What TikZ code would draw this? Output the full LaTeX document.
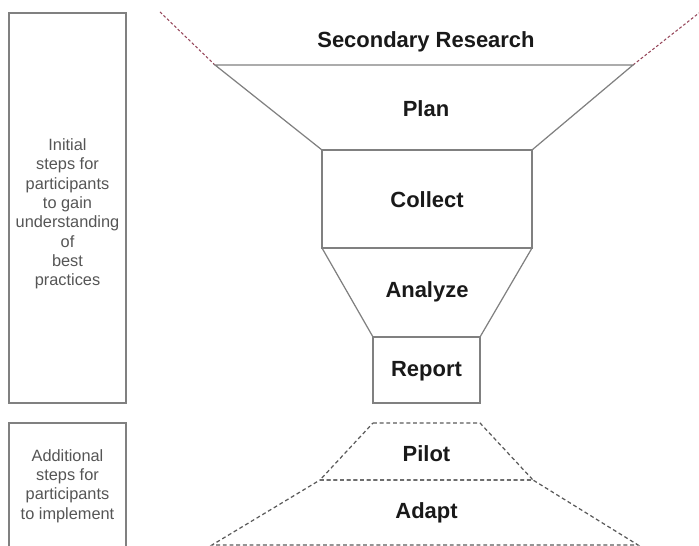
\documentclass[tikz,border=0pt]{standalone}
\usepackage{fontspec}
\setmainfont{Liberation Sans}
\definecolor{edgegray}{RGB}{128,128,128}
\definecolor{notegray}{RGB}{85,85,85}
\definecolor{rimred}{RGB}{150,70,90}
\definecolor{labelblack}{RGB}{25,25,25}

\begin{document}
\begin{tikzpicture}[x=0.02cm, y=-0.02cm,
    stage/.style={draw=edgegray, line width=0.7pt},
    extra/.style={draw=edgegray!70!black, line width=0.7pt, dash pattern=on 2.2pt off 1.6pt},
    rim/.style={draw=rimred, line width=0.6pt, dash pattern=on 1.6pt off 1.2pt},
    steplabel/.style={font=\fontsize{12.5}{15}\selectfont\bfseries, text=labelblack, anchor=base, inner sep=0pt},
    note/.style={font=\fontsize{9.3}{11}\selectfont, text=notegray, align=center, inner sep=0pt}
]
\useasboundingbox (0,0) rectangle (699,546);
\clip (0,0) rectangle (699,546);
% side boxes
\draw[stage] (9,13) rectangle (126,403);
\draw[stage] (9,423) rectangle (126,560);
\node[note] (initial) at (67.5,214) {Initial\\steps for\\participants\\to gain\\understanding\\of\\best\\practices};
\node[note] (additional) at (67.5,486) {Additional\\steps for\\participants\\to implement};
% funnel
\draw[rim] (160,12) -- (215,65);
\draw[rim] (633,65) -- (699,13);
\draw[stage] (215,65) -- (633,65) -- (532,150) -- (322,150) -- cycle;
\draw[stage] (322,150) rectangle (532,248);
\draw[stage] (322,248) -- (532,248) -- (480,337) -- (373,337) -- cycle;
\draw[stage] (373,337) rectangle (480,403);
% follow-up steps
\draw[extra] (373,423) -- (480,423) -- (533,480) -- (320,480) -- cycle;
\draw[extra] (320,480) -- (533,480) -- (638,545) -- (212,545) -- cycle;
% labels
\node[steplabel] (secondary) at (426,48) {Secondary Research};
\node[steplabel] (plan) at (426,117) {Plan};
\node[steplabel] (collect) at (427,208) {Collect};
\node[steplabel] (analyze) at (427,298) {Analyze};
\node[steplabel] (report) at (426.5,377) {Report};
\node[steplabel] (pilot) at (426.5,461) {Pilot};
\node[steplabel] (adapt) at (426.5,519) {Adapt};
\end{tikzpicture}
\end{document}
